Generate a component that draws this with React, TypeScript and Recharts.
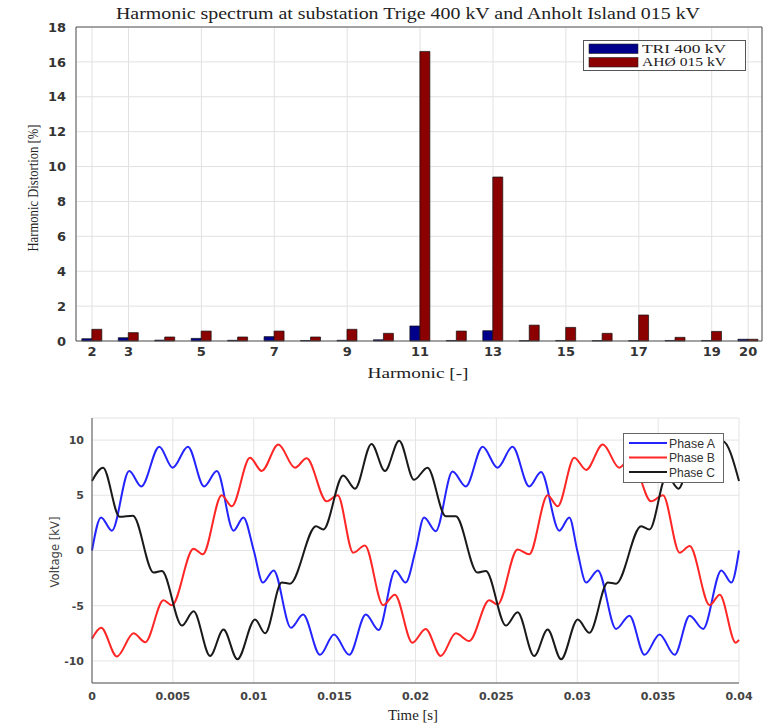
import React from "react";
import {
  BarChart,
  Bar,
  LineChart,
  Line,
  XAxis,
  YAxis,
  CartesianGrid,
  Legend,
  ReferenceLine
} from "recharts";

// harmonic spectrum (top panel)
const harmonics = [2, 3, 4, 5, 6, 7, 8, 9, 10, 11, 12, 13, 14, 15, 16, 17, 18, 19, 20];
const triValues = [0.13, 0.19, 0.05, 0.15, 0.04, 0.25, 0.03, 0.04, 0.07, 0.86, 0.03, 0.59, 0.02, 0.03, 0.02, 0.02, 0.03, 0.03, 0.1];
const ahoValues = [0.67, 0.48, 0.23, 0.57, 0.23, 0.57, 0.23, 0.67, 0.44, 16.6, 0.57, 9.4, 0.91, 0.78, 0.44, 1.49, 0.21, 0.55, 0.1];
const spectrumNames = ["TRI 400 kV", "AHØ 015 kV"];
const harmonicTicks = [2, 3, 5, 7, 9, 11, 13, 15, 17, 19, 20];
const distortionTicks = [0, 2, 4, 6, 8, 10, 12, 14, 16, 18];

// phase voltages (bottom panel), read at the wiggle peaks / troughs
const phaseATime = [0, 0.00056, 0.00123, 0.0023, 0.00305, 0.00416, 0.00498, 0.00593, 0.00693, 0.00772, 0.00875, 0.00936, 0.01, 0.01056, 0.01123, 0.0123, 0.01305, 0.0141, 0.01496, 0.0159, 0.01693, 0.01772, 0.01875, 0.01939, 0.02, 0.02053, 0.02125, 0.02229, 0.02311, 0.02415, 0.02507, 0.026, 0.02703, 0.02776, 0.02889, 0.02951, 0.03, 0.03055, 0.03127, 0.0324, 0.03323, 0.03416, 0.03509, 0.03602, 0.03695, 0.03778, 0.03891, 0.03953, 0.04];
const phaseAVolts = [0, 3.0, 1.8, 7.2, 5.8, 9.4, 7.5, 9.4, 5.8, 7.2, 1.8, 3.0, 0, -2.9, -1.8, -7.0, -5.8, -9.45, -7.6, -9.45, -5.8, -7.2, -1.8, -2.9, 0, 3.0, 1.75, 7.15, 5.8, 9.4, 7.5, 9.4, 5.8, 7.1, 1.8, 3.0, 0, -2.9, -1.8, -7.1, -5.9, -9.45, -7.6, -9.45, -5.9, -7.1, -1.8, -2.9, 0];

const phaseBTime = [0, 0.00056, 0.00154, 0.00257, 0.00329, 0.00442, 0.00494, 0.00628, 0.00685, 0.00802, 0.00864, 0.00977, 0.01049, 0.01152, 0.01255, 0.01327, 0.01451, 0.01519, 0.01615, 0.01687, 0.018, 0.01872, 0.01981, 0.02063, 0.02156, 0.02249, 0.02332, 0.02456, 0.02507, 0.02631, 0.02703, 0.02817, 0.02879, 0.02982, 0.03055, 0.03158, 0.0326, 0.0333, 0.03457, 0.0353, 0.03633, 0.03695, 0.03819, 0.03881, 0.0398, 0.04];
const phaseBVolts = [-8.0, -7.0, -9.6, -7.5, -8.3, -4.5, -4.95, 0.15, -0.35, 5.0, 4.0, 8.4, 7.2, 9.6, 7.5, 8.35, 4.45, 5.0, -0.2, 0.45, -4.95, -4.0, -8.35, -7.1, -9.55, -7.5, -8.2, -4.5, -4.9, 0.1, -0.35, 5.0, 4.0, 8.4, 7.3, 9.6, 7.5, 8.4, 4.45, 5.0, -0.2, 0.4, -4.95, -4.0, -8.35, -8.1];

const phaseCTime = [0, 0.00068, 0.00171, 0.00253, 0.00381, 0.00432, 0.00556, 0.00628, 0.0073, 0.00813, 0.00899, 0.01008, 0.0107, 0.01173, 0.01224, 0.01385, 0.0143, 0.01553, 0.01626, 0.01728, 0.01811, 0.01899, 0.01991, 0.02074, 0.02187, 0.02249, 0.02383, 0.02435, 0.02559, 0.02631, 0.02734, 0.02817, 0.029, 0.03003, 0.03075, 0.03189, 0.0324, 0.03395, 0.03447, 0.03553, 0.03626, 0.03728, 0.03811, 0.03899, 0.04];
const phaseCVolts = [6.3, 7.5, 3.05, 3.15, -2.0, -1.85, -6.8, -5.5, -9.55, -7.15, -9.85, -6.25, -7.5, -2.9, -3.0, 2.2, 1.9, 6.8, 5.6, 9.65, 7.2, 9.95, 6.4, 7.5, 3.1, 3.1, -2.0, -1.85, -6.8, -5.6, -9.55, -7.15, -9.85, -6.25, -7.45, -2.9, -3.0, 2.2, 1.9, 6.8, 5.6, 9.65, 7.2, 9.9, 6.3];

const phaseNames = ["Phase A", "Phase B", "Phase C"];
const timeTicks = [0, 0.005, 0.01, 0.015, 0.02, 0.025, 0.03, 0.035, 0.04];
const voltTicks = [-10, -5, 0, 5, 10];

const spectrumData = harmonics.map((h, i) => ({ h, tri: triValues[i], aho: ahoValues[i] }));
const toPoints = (ts: number[], vs: number[]) => ts.map((t, i) => ({ t, v: vs[i] }));
const phaseA = toPoints(phaseATime, phaseAVolts);
const phaseB = toPoints(phaseBTime, phaseBVolts);
const phaseC = toPoints(phaseCTime, phaseCVolts);

const serif = "Liberation Serif";
const sans = "DejaVu Sans";

const ordered = (payload: any[], names: string[]) =>
  [...(payload || [])].sort((a, b) => names.indexOf(a.value) - names.indexOf(b.value));

const SpectrumLegend = ({ payload }: any) => (
  <svg width={163} height={32}>
    <rect x={0.5} y={0.5} width={162} height={30} fill="#fff" stroke="#555" />
    {ordered(payload, spectrumNames).map((p: any, i: number) => (
      <g key={i}>
        <rect x={6} y={4 + i * 13.5} width={49} height={9.5} fill={p.color} stroke="#222" strokeWidth={0.6} />
        <text x={59} y={12.5 + i * 13.5} fontFamily={serif} fontSize={12} fill="#222"
          textLength={84} lengthAdjust="spacingAndGlyphs">{p.value}</text>
      </g>
    ))}
  </svg>
);

const PhaseLegend = ({ payload }: any) => (
  <svg width={101} height={51}>
    <rect x={0.5} y={0.5} width={100} height={49} fill="#fff" stroke="#666" />
    {ordered(payload, phaseNames).map((p: any, i: number) => (
      <g key={i}>
        <line x1={6} x2={44} y1={10 + i * 14.5} y2={10 + i * 14.5} stroke={p.color} strokeWidth={2} />
        <text x={46} y={14.5 + i * 14.5} fontFamily="Liberation Sans" fontSize={13} fill="#333"
          textLength={46} lengthAdjust="spacingAndGlyphs">{p.value}</text>
      </g>
    ))}
  </svg>
);

export default function App() {
  return (
    <div style={{ position: "absolute", left: 0, top: 0, width: 764, height: 725, background: "#fff" }}>
      <svg style={{ position: "absolute", left: 0, top: 0 }} width={764} height={26}>
        <text x={408} y={19} textAnchor="middle" fontFamily={serif} fontSize={16} fill="#222"
          textLength={584} lengthAdjust="spacingAndGlyphs">
          Harmonic spectrum at substation Trige 400 kV and Anholt Island 015 kV
        </text>
      </svg>

      <div style={{ position: "absolute", left: 0, top: 0 }}>
        <BarChart
          width={764}
          height={385}
          data={spectrumData}
          barGap={0}
          margin={{ top: 27, right: 2, left: 16, bottom: 14 }}
        >
          <CartesianGrid stroke="#e2e2e2" />
          <XAxis
            dataKey="h"
            type="number"
            domain={[1.56, 20.38]}
            ticks={harmonicTicks}
            allowDataOverflow
            height={30}
            tickLine={false}
            tickSize={0}
            tickMargin={6}
            axisLine={{ stroke: "#555" }}
            tick={{ fontFamily: sans, fontSize: 13, fill: "#333", fontWeight: "bold" }}
            label={{
              content: () => (
                <text x={418} y={378} textAnchor="middle" fontFamily={serif} fontSize={15} fill="#222"
                  textLength={101} lengthAdjust="spacingAndGlyphs">Harmonic [-]</text>
              )
            }}
          />
          <YAxis
            type="number"
            domain={[0, 18]}
            ticks={distortionTicks}
            width={60}
            tickLine={false}
            tickSize={0}
            tickMargin={10}
            axisLine={{ stroke: "#555" }}
            tick={{ fontFamily: sans, fontSize: 13, fill: "#333", fontWeight: "bold" }}
            label={{
              content: () => (
                <text x={38} y={188} transform="rotate(-90 38 188)" textAnchor="middle" fontFamily={serif}
                  fontSize={15} fill="#222" textLength={127} lengthAdjust="spacingAndGlyphs">
                  Harmonic Distortion [%]
                </text>
              )
            }}
          />
          <ReferenceLine y={18} stroke="#555" />
          <ReferenceLine x={20.38} stroke="#555" />
          <Legend
            layout="horizontal"
            verticalAlign="middle"
            align="center"
            wrapperStyle={{ position: "absolute", left: 583, top: 40, width: 163, height: 32 }}
            content={<SpectrumLegend />}
          />
          <Bar dataKey="tri" name={spectrumNames[0]} fill="#00008b" stroke="#111" strokeWidth={0.7} barSize={10} isAnimationActive={false} />
          <Bar dataKey="aho" name={spectrumNames[1]} fill="#8b0000" stroke="#111" strokeWidth={0.7} barSize={10} isAnimationActive={false} />
        </BarChart>
      </div>

      <div style={{ position: "absolute", left: 0, top: 380 }}>
        <LineChart width={764} height={345} margin={{ top: 38, right: 25, left: 32, bottom: 17 }}>
          <CartesianGrid stroke="#e4e4e4" />
          <XAxis
            dataKey="t"
            type="number"
            domain={[0, 0.04]}
            ticks={timeTicks}
            allowDuplicatedCategory={false}
            height={25}
            tickLine={false}
            tickSize={0}
            tickMargin={9}
            axisLine={{ stroke: "#555" }}
            tick={{ fontFamily: sans, fontSize: 11, fill: "#444", fontWeight: "bold" }}
            label={{
              content: () => (
                <text x={413} y={340} textAnchor="middle" fontFamily={serif} fontSize={14} fill="#222"
                  textLength={50} lengthAdjust="spacingAndGlyphs">Time [s]</text>
              )
            }}
          />
          <YAxis
            type="number"
            domain={[-12, 12]}
            ticks={voltTicks}
            width={60}
            tickLine={false}
            tickSize={0}
            tickMargin={8}
            axisLine={{ stroke: "#555" }}
            tick={{ fontFamily: sans, fontSize: 11, fill: "#444", fontWeight: "bold" }}
            label={{
              content: () => (
                <text x={59} y={172} transform="rotate(-90 59 172)" textAnchor="middle" fontFamily={sans}
                  fontSize={12} fill="#444" textLength={71} lengthAdjust="spacingAndGlyphs">Voltage [kV]</text>
              )
            }}
          />
          <Legend
            layout="horizontal"
            verticalAlign="middle"
            align="center"
            wrapperStyle={{ position: "absolute", left: 623, top: 53, width: 101, height: 51 }}
            content={<PhaseLegend />}
          />
          <Line data={phaseA} dataKey="v" name={phaseNames[0]} type="monotone" stroke="#2424ff" strokeWidth={2} dot={false} isAnimationActive={false} />
          <Line data={phaseB} dataKey="v" name={phaseNames[1]} type="monotone" stroke="#ff2626" strokeWidth={2} dot={false} isAnimationActive={false} />
          <Line data={phaseC} dataKey="v" name={phaseNames[2]} type="monotone" stroke="#1a1a1a" strokeWidth={2} dot={false} isAnimationActive={false} />
        </LineChart>
      </div>
    </div>
  );
}
